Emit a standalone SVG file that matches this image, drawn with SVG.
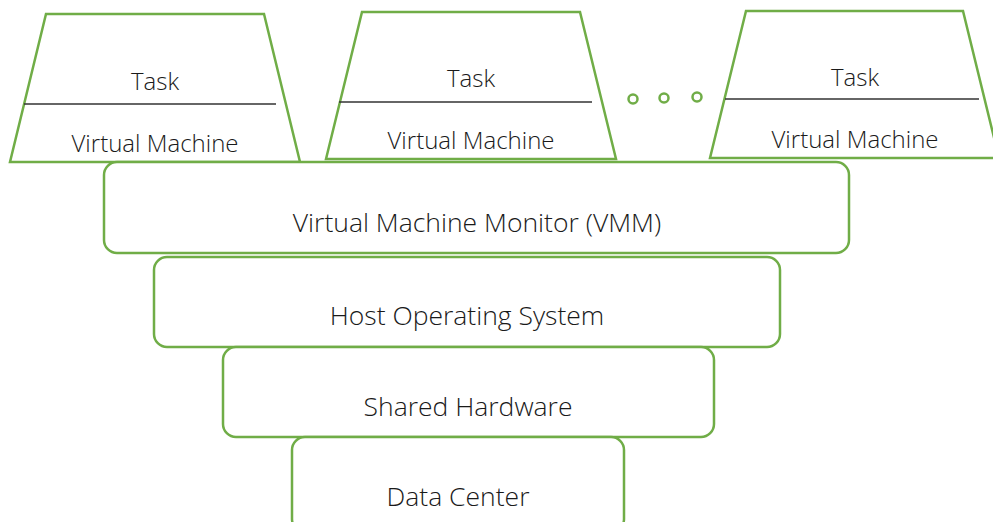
<svg xmlns="http://www.w3.org/2000/svg" width="993" height="522" viewBox="0 0 993 522">
<style>
.g{fill:#fff;stroke:#70AD47;stroke-width:2.5;stroke-linejoin:miter}
.d{fill:#fff;stroke:#70AD47;stroke-width:2.5}
.sep{stroke:#333;stroke-width:1.5}
.t{font-family:"Open Sans","Liberation Sans",sans-serif;font-weight:300;fill:#1a1a1a;text-anchor:middle}
.s{font-size:24px}
.l{font-size:26.5px}
</style>
<rect width="993" height="522" fill="#fff"/>
<g id="vm1">
<polygon class="g" points="46,14 264,14 300,162 10,162"/>
<line class="sep" x1="24" y1="104" x2="276" y2="104"/>
<text class="t s" x="155" y="90">Task</text>
<text class="t s" x="155" y="152">Virtual Machine</text>
</g>
<g id="vm2">
<polygon class="g" points="362,12 580,12 616,159 326,159"/>
<line class="sep" x1="339" y1="102" x2="592" y2="102"/>
<text class="t s" x="471" y="87">Task</text>
<text class="t s" x="471" y="149">Virtual Machine</text>
</g>
<g id="vm3">
<polygon class="g" points="746,11 963,11 999,158 710,158"/>
<line class="sep" x1="725" y1="99" x2="979" y2="99"/>
<text class="t s" x="855" y="86">Task</text>
<text class="t s" x="855" y="148">Virtual Machine</text>
</g>
<g id="dots">
<circle class="d" cx="633" cy="99" r="4.5"/>
<circle class="d" cx="664" cy="98" r="4.5"/>
<circle class="d" cx="697" cy="97" r="4.5"/>
</g>
<g id="vmm">
<rect class="g" x="104" y="162" width="745" height="91" rx="13"/>
<text class="t l" x="477" y="232">Virtual Machine Monitor (VMM)</text>
</g>
<g id="host">
<rect class="g" x="154" y="257" width="626" height="90" rx="13"/>
<text class="t l" x="467" y="325">Host Operating System</text>
</g>
<g id="hw">
<rect class="g" x="223" y="347" width="491" height="90" rx="13"/>
<text class="t l" x="468" y="416">Shared Hardware</text>
</g>
<g id="dc">
<rect class="g" x="292" y="437" width="332" height="95" rx="13"/>
<text class="t l" x="458" y="506">Data Center</text>
</g>
<g id="connectors"></g>
</svg>
